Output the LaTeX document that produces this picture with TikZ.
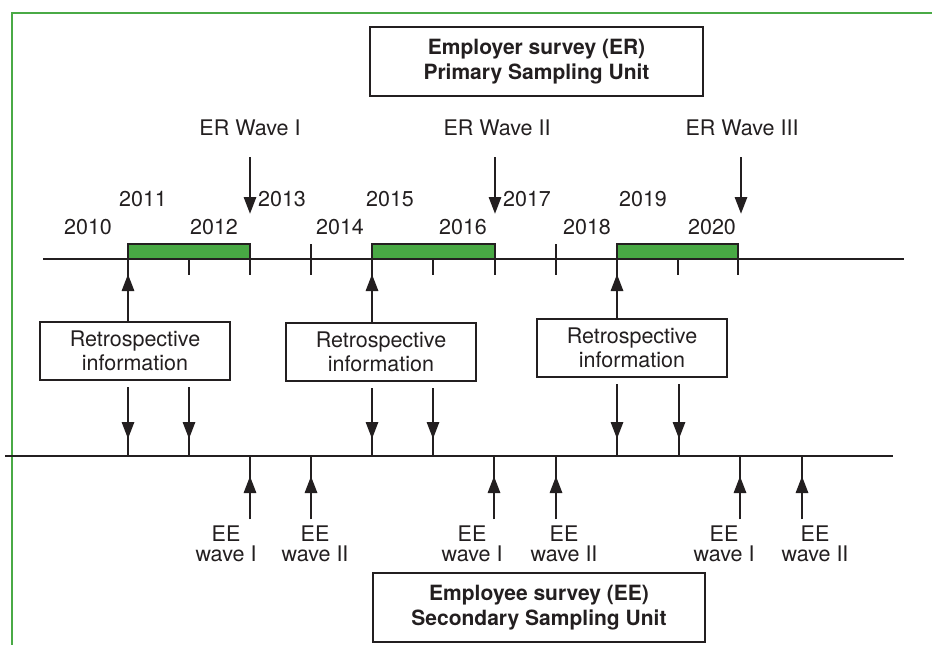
\documentclass[tikz,border=0pt]{standalone}
\usepackage{fontspec}
\setmainfont{TeX Gyre Heros}
\usetikzlibrary{arrows.meta}
\definecolor{frgreen}{RGB}{74,170,70}
\definecolor{barfill}{RGB}{72,168,68}
\definecolor{ink}{RGB}{35,31,32}
\begin{document}
\begin{tikzpicture}[x=1pt,y=-1pt,line width=2.9pt,draw=ink,
  lbl/.style={font=\fontsize{21.5}{24}\selectfont,text=ink,inner sep=0pt,align=center},
  boxnode/.style={draw=ink,line width=2.9pt,fill=white,inner sep=0pt,align=center,text=ink,
     font=\fontsize{21.5}{24.5}\selectfont},
  tiparrow/.style={-{Triangle[length=17pt,width=12pt]}},
  bar/.style={draw=ink,fill=barfill,line width=2.9pt}]
\useasboundingbox (0,0) rectangle (932,645);
% frame
\draw[frgreen,line width=2.8pt] (932,13) -- (12,13) -- (12,645);

% top box
\node[boxnode,font=\fontsize{21}{24.5}\selectfont\bfseries,minimum width=333pt,minimum height=69pt] (er) at (536.5,61.5)
  {Employer survey (ER)\\Primary Sampling Unit};

% ER wave labels and arrows
\node[lbl] (w1) at (250,128) {ER Wave I};
\node[lbl] (w2) at (497,128) {ER Wave II};
\node[lbl] (w3) at (742,128) {ER Wave III};
\coordinate (w1s) at (250,157); \coordinate (w1t) at (250,214);
\coordinate (w2s) at (495,157); \coordinate (w2t) at (495,214);
\coordinate (w3s) at (741,157); \coordinate (w3t) at (741,214);
\draw[tiparrow] (w1s) -- (w1t);
\draw[tiparrow] (w2s) -- (w2t);
\draw[tiparrow] (w3s) -- (w3t);

% years
\node[lbl] (y2010) at (88,227) {2010};
\node[lbl] (y2011) at (143,199) {2011};
\node[lbl] (y2012) at (214,227) {2012};
\node[lbl] (y2013) at (282,199) {2013};
\node[lbl] (y2014) at (340,227) {2014};
\node[lbl] (y2015) at (390,199) {2015};
\node[lbl] (y2016) at (463,227) {2016};
\node[lbl] (y2017) at (527,199) {2017};
\node[lbl] (y2018) at (587,227) {2018};
\node[lbl] (y2019) at (643,199) {2019};
\node[lbl] (y2020) at (712,227) {2020};

% top timeline
\coordinate (tl) at (43,259); \coordinate (tr) at (904,259);
\draw[bar] (128,259) rectangle (250,244);
\draw[bar] (372,259) rectangle (495,244);
\draw[bar] (617,259) rectangle (738,244);
\draw (tl) -- (tr);
\foreach \x in {189,433,678} \draw (\x,259) -- (\x,275);
\foreach \x in {128,250,311,372,495,556,617,738} \draw (\x,244) -- (\x,275);

% retrospective boxes
\node[boxnode,minimum width=190pt,minimum height=58pt] (r1) at (135,351) {Retrospective\\information};
\node[boxnode,minimum width=190pt,minimum height=58pt] (r2) at (381,352) {Retrospective\\information};
\node[boxnode,minimum width=190pt,minimum height=58pt] (r3) at (632,348) {Retrospective\\information};

% up arrows from boxes to the top timeline
\foreach \x/\b in {128/r1,372/r2,617/r3}{
  \draw (\b.north -| \x,0) -- (\x,259);
  \draw[tiparrow] (\b.north -| \x,0) -- (\x,274);
}

% bottom timeline
\coordinate (bl) at (5,456); \coordinate (br) at (893,456);
\draw (bl) -- (br);

% down arrows from boxes to the bottom timeline
\foreach \x/\b in {128/r1,189/r1,372/r2,433/r2,617/r3,679/r3}{
  \draw ([yshift=-6pt]\b.south -| \x,0) -- (\x,456);
  \draw[tiparrow] ([yshift=-6pt]\b.south -| \x,0) -- (\x,439);
}

% EE up arrows
\foreach \x in {250,311,494,556,740,802}{
  \draw (\x,519) -- (\x,456);
  \draw[tiparrow] (\x,519) -- (\x,476);
}

% EE labels
\foreach \n/\x/\w in {1/226/I,2/315/II,3/472/I,4/564/II,5/724/I,6/815/II}{
  \node[lbl] (ea\n) at (\x,533.5) {EE};
  \node[lbl] (eb\n) at (\x,553.5) {wave \w};
}

% bottom box
\node[boxnode,font=\fontsize{21}{25.5}\selectfont\bfseries,minimum width=332pt,minimum height=69pt] (ee) at (539,607.5)
  {Employee survey (EE)\\Secondary Sampling Unit};
\end{tikzpicture}
\end{document}
